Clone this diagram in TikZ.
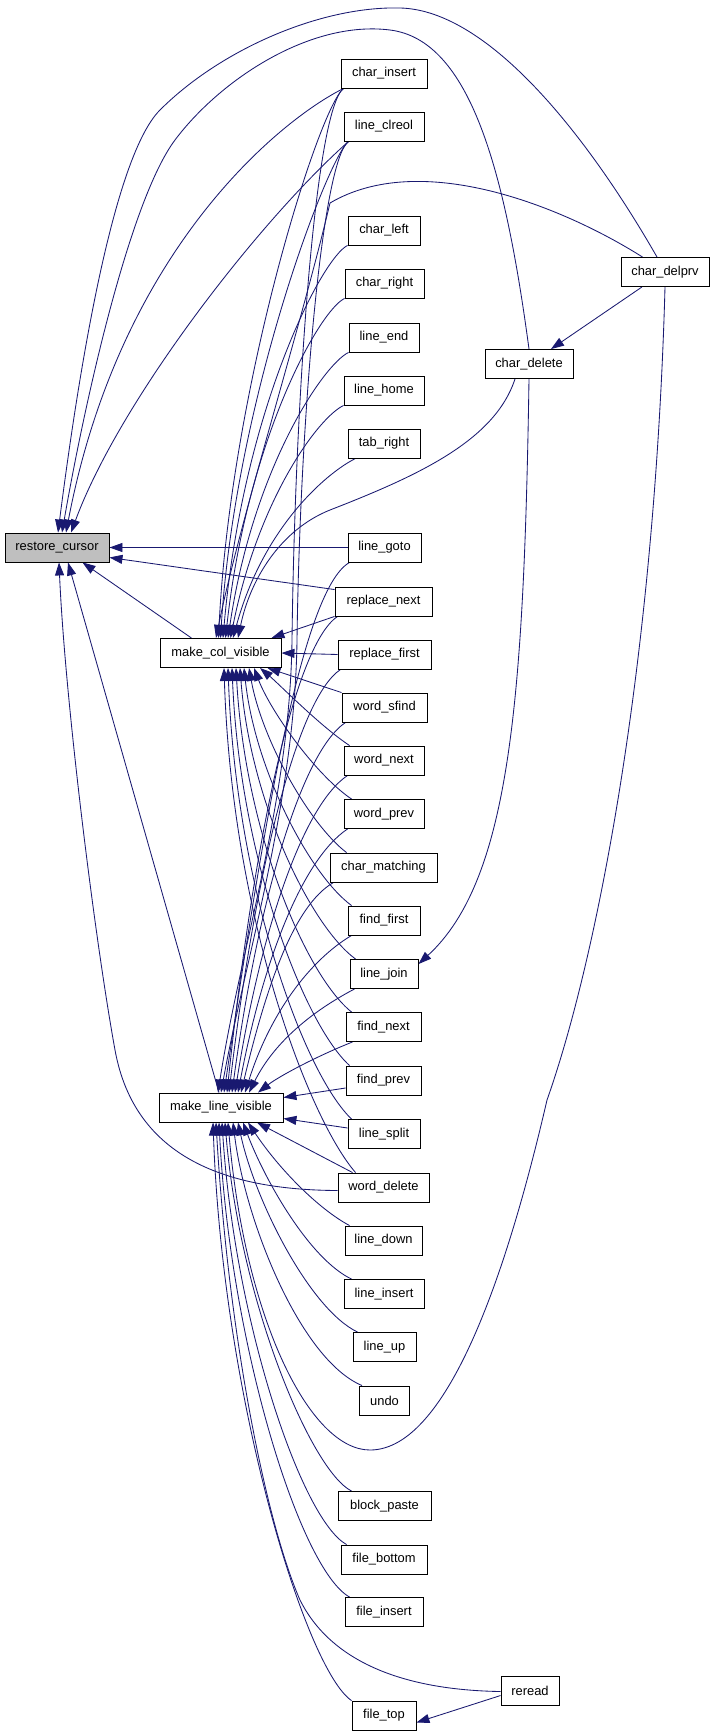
\documentclass[tikz,border=0pt]{standalone}
\usepackage{fontspec}
\setmainfont{Liberation Sans}
\usetikzlibrary{arrows.meta,backgrounds}
\definecolor{edgeblue}{RGB}{25,25,112}
\definecolor{rootgray}{RGB}{191,191,191}
\tikzset{
  box/.style={draw=black, line width=0.9pt, fill=white, minimum height=29pt, inner sep=0pt,
    font=\fontsize{12.9pt}{15pt}\selectfont},
  edge/.style={draw=edgeblue, line width=0.85pt, -{Triangle[length=13pt,width=9pt]}},
}
\begin{document}
\begin{tikzpicture}[x=1pt,y=-1pt]
\path[use as bounding box] (0,0) rectangle (715,1736);
% nodes
\node[box, fill=rootgray, minimum width=104pt] (rc) at (57,547.5) {restore\_cursor};
\node[box, minimum width=121pt] (mcv) at (220.5,653) {make\_col\_visible};
\node[box, minimum width=124pt] (mlv) at (221,1107.5) {make\_line\_visible};
\node[box, minimum width=86pt] (char_insert) at (384,73.5) {char\_insert};
\node[box, minimum width=80pt] (line_clreol) at (384,126.5) {line\_clreol};
\node[box, minimum width=72pt] (char_left) at (384,230.5) {char\_left};
\node[box, minimum width=79pt] (char_right) at (384.5,283.5) {char\_right};
\node[box, minimum width=70pt] (line_end) at (384,337.5) {line\_end};
\node[box, minimum width=80pt] (line_home) at (384,390.5) {line\_home};
\node[box, minimum width=72pt] (tab_right) at (384,443.5) {tab\_right};
\node[box, minimum width=73pt] (line_goto) at (384.5,547.5) {line\_goto};
\node[box, minimum width=97pt] (replace_next) at (383.5,601.5) {replace\_next};
\node[box, minimum width=93pt] (replace_first) at (384.5,654.5) {replace\_first};
\node[box, minimum width=85pt] (word_sfind) at (384.5,707.5) {word\_sfind};
\node[box, minimum width=80pt] (word_next) at (384,760.5) {word\_next};
\node[box, minimum width=80pt] (word_prev) at (384,814) {word\_prev};
\node[box, minimum width=107pt] (char_matching) at (383.5,867.5) {char\_matching};
\node[box, minimum width=72pt] (find_first) at (384,920.5) {find\_first};
\node[box, minimum width=68pt] (line_join) at (384,974) {line\_join};
\node[box, minimum width=75pt] (find_next) at (383.5,1027) {find\_next};
\node[box, minimum width=75pt] (find_prev) at (383.5,1080.5) {find\_prev};
\node[box, minimum width=72pt] (line_split) at (384,1134) {line\_split};
\node[box, minimum width=91pt] (word_delete) at (383.5,1187.5) {word\_delete};
\node[box, minimum width=77pt] (line_down) at (383.5,1240.5) {line\_down};
\node[box, minimum width=80pt] (line_insert) at (384,1294) {line\_insert};
\node[box, minimum width=63pt] (line_up) at (384.5,1347) {line\_up};
\node[box, minimum width=50pt] (undo) at (384.5,1400.5) {undo};
\node[box, minimum width=93pt] (block_paste) at (384.5,1506) {block\_paste};
\node[box, minimum width=86pt] (file_bottom) at (384,1559.5) {file\_bottom};
\node[box, minimum width=78pt] (file_insert) at (384,1612) {file\_insert};
\node[box, minimum width=64pt] (file_top) at (384,1715.5) {file\_top};
\node[box, minimum width=58pt] (reread) at (530,1690.5) {reread};
\node[box, minimum width=88pt] (char_delete) at (529,364) {char\_delete};
\node[box, minimum width=88pt] (char_delprv) at (665,272) {char\_delprv};

\begin{pgfonlayer}{background}
% ---- edges to restore_cursor
\draw[edge] ([xshift=-8pt]char_delprv.north) .. controls (590,140) and (490,10) .. (400,8) .. controls (320,6) and (220,50) .. (160,110) .. controls (110,160) and (75,400) .. ([xshift=1pt]rc.north);
\draw[edge] (char_delete.north) .. controls (505,170) and (470,40) .. (390,30) .. controls (310,20) and (220,80) .. (175,140) .. controls (130,200) and (85,400) .. ([xshift=5pt]rc.north);
\draw[edge] ([xshift=3pt]char_insert.south west) .. controls (280,120) and (120,250) .. ([xshift=9pt]rc.north);
\draw[edge] ([xshift=5pt]line_clreol.south west) .. controls (260,220) and (120,400) .. ([xshift=14pt]rc.north);
\draw[edge] (line_goto.west) -- (rc.east);
\draw[edge] ([yshift=-3pt]replace_next.north west) -- ([yshift=-10pt]rc.east);
\draw[edge] ([xshift=-29pt]mcv.north) -- ([xshift=-27pt]rc.south east);
\draw[edge] ([xshift=-2pt]mlv.north) -- ([xshift=11pt]rc.south);
\draw[edge] ([yshift=-3pt]word_delete.west) .. controls (230,1190) and (135,1160) .. (115,1050) .. controls (95,940) and (65,700) .. ([xshift=2pt]rc.south);
% ---- edges to make_col_visible from above
\draw[edge] ([xshift=22pt]char_delprv.north west) .. controls (560,205) and (420,150) .. (330,203) .. controls (300,330) and (240,520) .. ([xshift=-4.5pt]mcv.north);
\draw[edge] ([xshift=3pt]char_insert.south west) .. controls +(-25,20) and +(12,-250) .. ([xshift=-2pt]mcv.north);
\draw[edge] ([xshift=5pt]line_clreol.south west) .. controls +(-20,15) and +(15,-240) .. (mcv.north);
\draw[edge] (char_left.south west) .. controls +(-25,12) and +(20,-230) .. ([xshift=2.5pt]mcv.north);
\draw[edge] (char_right.south west) .. controls +(-25,12) and +(22,-200) .. ([xshift=5pt]mcv.north);
\draw[edge] (line_end.south west) .. controls +(-25,12) and +(25,-170) .. ([xshift=7.5pt]mcv.north);
\draw[edge] (line_home.south west) .. controls +(-25,12) and +(28,-140) .. ([xshift=10pt]mcv.north);
\draw[edge] ([xshift=8pt]tab_right.south west) .. controls +(-30,15) and +(30,-110) .. ([xshift=12.5pt]mcv.north);
\draw[edge] ([xshift=-14pt]char_delete.south) .. controls (495,440) and (420,475) .. (330,510) .. controls (280,530) and (250,580) .. ([xshift=17.5pt]mcv.north);
% ---- edges to make_col_visible from the side and below
\draw[edge] (replace_next.south west) -- ([xshift=-10pt]mcv.north east);
\draw[edge] (replace_first.west) -- (mcv.east);
\draw[edge] (word_sfind.north west) -- ([xshift=-14pt]mcv.south east);
\draw[edge] ([xshift=6pt]word_next.north west) .. controls +(-30,-20) and +(20,17) .. ([xshift=39.5pt]mcv.south);
\draw[edge] ([xshift=8pt]word_prev.north west) .. controls +(-37,-25) and +(16,42) .. ([xshift=33.5pt]mcv.south);
\draw[edge] ([xshift=17pt]char_matching.north west) .. controls +(-37,-28) and +(13,72) .. ([xshift=28.5pt]mcv.south);
\draw[edge] ([xshift=4pt]find_first.north west) .. controls +(-42,-31) and +(11,102) .. ([xshift=23.5pt]mcv.south);
\draw[edge] ([xshift=6pt]line_join.north west) .. controls +(-46,-34) and +(10,132) .. ([xshift=19.5pt]mcv.south);
\draw[edge] ([xshift=6pt]find_next.north west) .. controls +(-47,-38) and +(9,162) .. ([xshift=15.5pt]mcv.south);
\draw[edge] ([xshift=4pt]find_prev.north west) .. controls +(-45,-41) and +(8,192) .. ([xshift=11.5pt]mcv.south);
\draw[edge] ([xshift=4pt]line_split.north west) .. controls +(-47,-45) and +(8,222) .. ([xshift=7.5pt]mcv.south);
\draw[edge] ([xshift=18pt]word_delete.north west) .. controls +(-46,-53) and +(8,252) .. ([xshift=3.5pt]mcv.south);
% ---- edges to make_line_visible from above
\draw[edge] ([xshift=3pt]char_insert.south west) .. controls (315,110) and (295,400) .. (292,640) .. controls (290,800) and (240,950) .. ([xshift=-3pt]mlv.north);
\draw[edge] ([xshift=5pt]line_clreol.south west) .. controls (322,160) and (300,420) .. (297,640) .. controls (295,800) and (245,960) .. (mlv.north);
\draw[edge] ([xshift=2pt]line_goto.south west) .. controls (300,590) and (260,850) .. ([xshift=3pt]mlv.north);
\draw[edge] ([xshift=3pt]replace_next.south west) .. controls +(-45,30) and +(25,-238) .. ([xshift=6pt]mlv.north);
\draw[edge] ([xshift=3pt]replace_first.south west) .. controls +(-45,30) and +(25,-212) .. ([xshift=8pt]mlv.north);
\draw[edge] ([xshift=4pt]word_sfind.south west) .. controls +(-45,30) and +(25,-186) .. ([xshift=11pt]mlv.north);
\draw[edge] ([xshift=4pt]word_next.south west) .. controls +(-45,30) and +(25,-159) .. ([xshift=14pt]mlv.north);
\draw[edge] ([xshift=4pt]word_prev.south west) .. controls +(-45,30) and +(25,-132) .. ([xshift=17pt]mlv.north);
\draw[edge] ([xshift=4pt]char_matching.south west) .. controls +(-40,23) and +(25,-105) .. ([xshift=20pt]mlv.north);
\draw[edge] ([xshift=4pt]find_first.south west) .. controls +(-42,25) and +(25,-79) .. ([xshift=24pt]mlv.north);
\draw[edge] ([xshift=5pt]line_join.south west) .. controls +(-40,21) and +(26,-52) .. ([xshift=28pt]mlv.north);
\draw[edge] ([xshift=7pt]find_next.south west) .. controls +(-33,13) and +(22,-17) .. ([xshift=37pt]mlv.north);
\draw[edge] ([yshift=-7.5pt]find_prev.west) -- ([yshift=10pt]mlv.east);
\draw[edge] ([yshift=6pt]line_split.west) -- ([yshift=-11pt]mlv.east);
% ---- edges to make_line_visible from below
\draw[edge] ([xshift=15pt]word_delete.north west) -- ([xshift=36pt]mlv.south);
\draw[edge] ([xshift=5pt]line_down.north west) .. controls +(-30,-16) and +(32,48) .. ([xshift=27pt]mlv.south);
\draw[edge] ([xshift=8pt]line_insert.north west) .. controls +(-42,-20) and +(22,58) .. ([xshift=22pt]mlv.south);
\draw[edge] ([xshift=5pt]line_up.north west) .. controls +(-48,-23) and +(17,78) .. ([xshift=17pt]mlv.south);
\draw[edge] ([xshift=3pt]undo.north west) .. controls +(-62,-26) and +(12,98) .. ([xshift=12pt]mlv.south);
\draw[edge] (char_delprv.south) .. controls (655,650) and (600,950) .. (547,1100) .. controls (510,1260) and (450,1450) .. (370,1450) .. controls (310,1450) and (245,1320) .. ([xshift=7pt]mlv.south);
\draw[edge] ([xshift=14pt]block_paste.north west) .. controls +(-40,-20) and +(15,180) .. ([xshift=4pt]mlv.south);
\draw[edge] ([xshift=6pt]file_bottom.north west) .. controls +(-45,-25) and +(13,200) .. ([xshift=1pt]mlv.south);
\draw[edge] ([xshift=5pt]file_insert.north west) .. controls +(-50,-28) and +(11,220) .. ([xshift=-2pt]mlv.south);
\draw[edge] ([yshift=-1pt]reread.west) .. controls (400,1690) and (330,1660) .. (300,1600) .. controls (265,1520) and (228,1330) .. ([xshift=-5pt]mlv.south);
\draw[edge] (file_top.north west) .. controls +(-45,-30) and +(10,280) .. ([xshift=-8pt]mlv.south);
% ---- other edges
\draw[edge] ([xshift=-23pt]char_delprv.south) -- ([xshift=22pt]char_delete.north);
\draw[edge] (char_delete.south) .. controls (524,700) and (510,880) .. ([yshift=-5pt]line_join.north east);
\draw[edge] ([yshift=-5pt]reread.west) -- ([yshift=-7pt]file_top.east);
\end{pgfonlayer}
\end{tikzpicture}
\end{document}
